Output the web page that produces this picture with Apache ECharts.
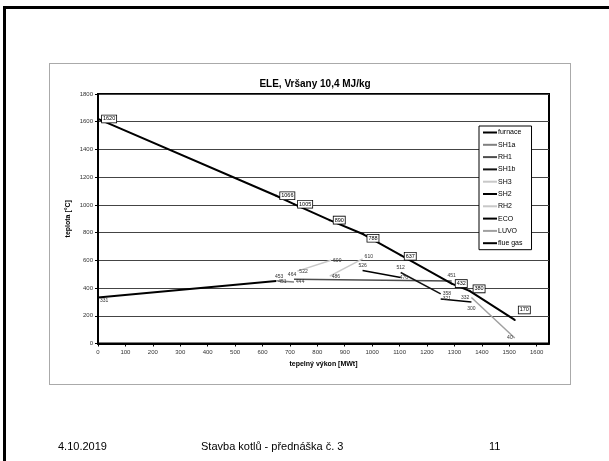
<!DOCTYPE html>
<html><head><meta charset="utf-8">
<script src="https://cdn.jsdelivr.net/npm/echarts@6/dist/echarts.min.js"></script>
<style>
html,body{margin:0;padding:0;background:#fff;}
#wrap{position:relative;width:609px;height:461px;overflow:hidden;background:#fff;font-family:"Liberation Sans",Arial,sans-serif;}
#bt{position:absolute;left:3px;top:6px;width:606px;height:3px;background:#000;}
#bl{position:absolute;left:3px;top:6px;width:3px;height:455px;background:#000;}
#box{position:absolute;left:49px;top:63px;width:520px;height:320px;border:1px solid #aaa;}
#chart{position:absolute;left:0;top:0;width:609px;height:461px;}
.ft{position:absolute;top:440px;font-size:11px;color:#000;}
</style></head>
<body><div id="wrap">
<div id="bt"></div><div id="bl"></div><div id="box"></div>
<div id="chart"></div>
<div class="ft" style="left:58px">4.10.2019</div>
<div class="ft" style="left:201px">Stavba kotlů - přednáška č. 3</div>
<div class="ft" style="left:489px">11</div>
</div>
<script>
// ---- data ----
const title = "ELE, Vršany 10,4 MJ/kg";
const xName = "tepelný výkon [MWt]";
const yName = "teplota [°C]";
const seriesNames = ["furnace","SH1a","RH1","SH1b","SH3","SH2","RH2","ECO","LUVO","flue gas"];
const furnaceQ = [0, 650];        const furnaceT = [331, 451];
const sh1aQ = [650, 715];         const sh1aT = [453, 444];
const rh1Q = [715, 1290];         const rh1T = [464, 451];
const sh1bQ = [1104, 1250];       const sh1bT = [512, 358];
const sh3Q = [727, 850];          const sh3T = [522, 600];
const sh2Q = [965, 1104];         const sh2T = [526, 476];
const rh2Q = [845, 965];          const rh2T = [486, 610];
const ecoQ = [1250, 1362];        const ecoT = [321, 300];
const luvoQ = [1362, 1520];       const luvoT = [332, 40];
const flueQ = [0, 650, 715, 845, 968, 1104, 1290, 1355, 1520];
const flueT = [1620, 1066, 1005, 890, 788, 637, 432, 380, 170];

// label placement per point (style only)
const labelPos = {
  furnace:[['right',[0,3]],['right',[0,1]]],
  SH1a:[['top',[3,0]],['right',[0,0]]],
  RH1:[['top',[-2,0]],['top',[0,-1]]],
  SH1b:[['top',[0,0]],['right',[0,0]]],
  SH3:[['right',[0,0]],['right',[0,0]]],
  SH2:[['top',[0,0]],['right',[-3,0]]],
  RH2:[['right',[0,0]],['right',[0,-2]]],
  ECO:[['right',[0,0]],['bottom',[0,2]]],
  LUVO:[['left',[0,0]],['left',[0,0]]],
  'flue gas':[['right',[0,0]],['right',[0,0]],['right',[0,0]],['right',[0,0]],['right',[0,4]],['right',[0,1]],['right',[0,0]],['right',[0,-2]],['right',[0,-10]]]
};

const colors = {furnace:"#000",SH1a:"#808080",RH1:"#4d4d4d",SH1b:"#111",SH3:"#c8c8c8",SH2:"#000",RH2:"#c8c8c8",ECO:"#000",LUVO:"#a0a0a0","flue gas":"#000"};

const plain = {show:true,fontSize:5,color:'#333',formatter:p=>String(p.value[1]),distance:2};
const boxed = {show:true,fontSize:5.5,color:'#000',backgroundColor:'#fff',borderColor:'#000',borderWidth:0.8,padding:[1,1,0,1],formatter:p=>String(p.value[1]),distance:3};

function mk(name,q,t,w,lab){
  const data=q.map((v,i)=>{
    const lp=labelPos[name][i];
    return {value:[v,t[i]],label:{position:lp[0],offset:lp[1]}};
  });
  return {name,type:'line',data,symbol:'circle',symbolSize:0.1,showSymbol:true,
    lineStyle:{color:colors[name],width:w},itemStyle:{color:colors[name]},
    label:lab,z:name==='flue gas'?5:3,animation:false};
}
const series=[
  mk("furnace",furnaceQ,furnaceT,2,plain),
  mk("SH1a",sh1aQ,sh1aT,1.5,plain),
  mk("RH1",rh1Q,rh1T,1.5,plain),
  mk("SH1b",sh1bQ,sh1bT,1.5,plain),
  mk("SH3",sh3Q,sh3T,1.5,plain),
  mk("SH2",sh2Q,sh2T,1.5,plain),
  mk("RH2",rh2Q,rh2T,1.5,plain),
  mk("ECO",ecoQ,ecoT,1.5,plain),
  mk("LUVO",luvoQ,luvoT,1.5,plain),
  mk("flue gas",flueQ,flueT,2,boxed)
];
series[9].symbolSize=2;

const chart=echarts.init(document.getElementById('chart'),null,{renderer:'canvas'});
chart.setOption({
  backgroundColor:'transparent',
  title:{text:title,left:310,top:74,textAlign:'center',textStyle:{fontSize:10,fontWeight:'bold',color:'#000',fontFamily:'Liberation Sans'}},
  legend:{orient:'vertical',left:479,top:126,itemWidth:14,itemHeight:2,itemGap:5.3,icon:'rect',
    data:seriesNames,borderColor:'#000',borderWidth:1,backgroundColor:'#fff',padding:[3,9,3,4],
    textStyle:{fontSize:7,color:'#000',fontFamily:'Liberation Sans',padding:[0,0,0,-4]}},
  grid:{left:98,right:60,top:94,bottom:117.5,show:true,borderColor:'#000',borderWidth:2,backgroundColor:'transparent'},
  xAxis:{type:'value',min:0,max:1645,interval:100,name:xName,nameLocation:'middle',nameGap:17,nameMoveOverlap:false,
    nameTextStyle:{fontSize:7,fontWeight:'bold',color:'#000',fontFamily:'Liberation Sans'},
    axisLine:{lineStyle:{color:'#000',width:2}},axisTick:{length:3,lineStyle:{color:'#000'}},
    axisLabel:{fontSize:6,color:'#333',margin:6,showMaxLabel:false,formatter:v=>String(v)},splitLine:{show:false}},
  yAxis:{type:'value',min:0,max:1800,interval:200,name:yName,nameLocation:'middle',nameGap:26,nameRotate:90,nameMoveOverlap:false,
    nameTextStyle:{fontSize:7,fontWeight:'bold',color:'#000',fontFamily:'Liberation Sans'},
    axisLine:{lineStyle:{color:'#000',width:2}},axisTick:{show:true,length:3,lineStyle:{color:'#000'}},
    axisLabel:{fontSize:6,color:'#333',margin:5,formatter:v=>String(v)},splitLine:{lineStyle:{color:'#444',width:1}}},
  series
});
</script>
</body></html>
